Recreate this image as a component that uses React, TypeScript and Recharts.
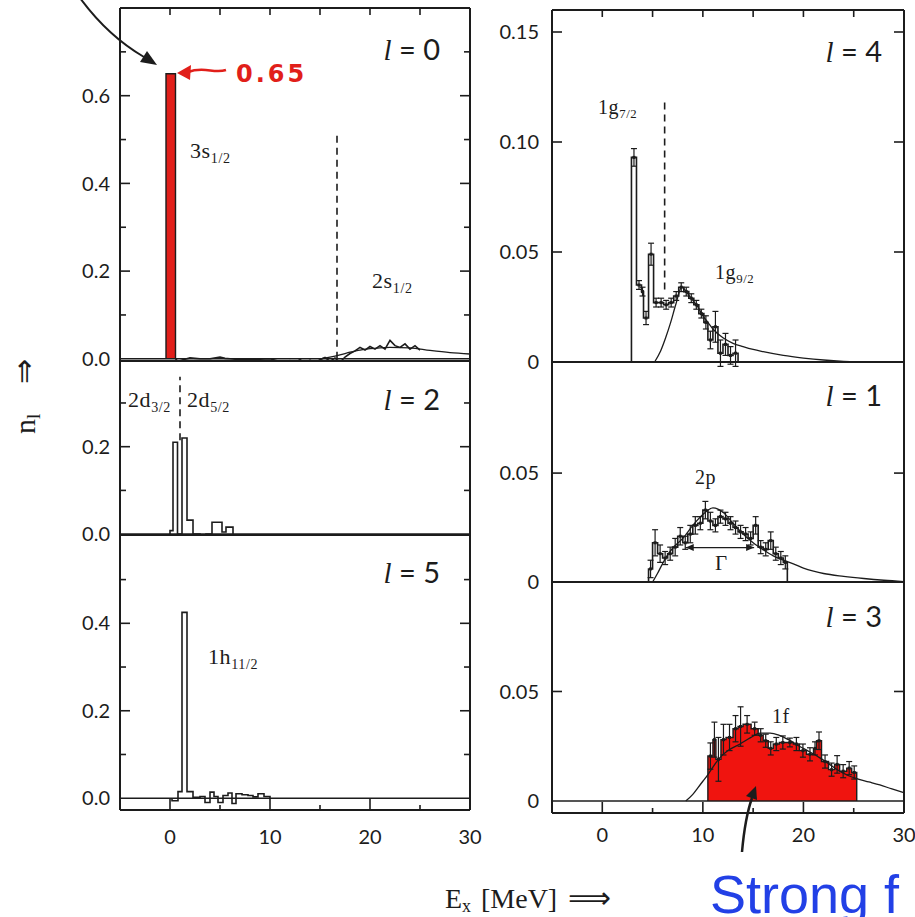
import React from 'react';
import {
  ComposedChart,
  Line,
  Area,
  Scatter,
  XAxis,
  YAxis,
  ReferenceLine,
  ErrorBar,
} from 'recharts';

const INK = '#1c1c1c';
const RED = '#e11f1a';
const FILL_1F = '#f0140f';
const BLUE = '#2240e6';

// shared excitation-energy axis (MeV)
const energyDomain: [number, number] = [-5, 30];
const energyLabels = [0, 10, 20, 30];
const energyBottomTicks = [0, 5, 10, 15, 20, 25];
const energyLongTicks = [0, 10, 20];
const energyTopTicks = [0, 5, 10, 15, 20, 25];

// ---- l = 0
const l0PeakEdges = [-0.4, 0.55];
const l0PeakN = [0.65];
const l0Trace: [number, number][] = [
  [0.55, 0], [0.8, -0.006], [1.3, -0.002], [2, 0.002], [3, 0], [4, 0], [5, 0.004], [5.5, 0.001],
  [6, 0], [7, -0.002], [8, -0.002], [9, -0.001], [10, 0], [11, -0.006], [11.5, -0.012], [12, -0.004],
  [12.5, -0.008], [13, -0.002], [13.5, -0.009], [14, -0.003], [14.5, -0.009], [15, -0.002], [15.5, 0.003],
  [16, -0.006], [16.5, 0.002], [17, -0.008], [17.5, 0.004], [18, 0.012], [18.5, 0.018], [19, 0.026],
  [19.5, 0.02], [20, 0.028], [20.5, 0.022], [21, 0.03], [21.5, 0.022], [22, 0.042], [22.5, 0.03],
  [23, 0.026], [23.5, 0.034], [24, 0.022], [24.5, 0.03], [25, 0.02],
];
const l0Fit: [number, number][] = [
  [15, 0], [16, 0.004], [17, 0.009], [18, 0.015], [19, 0.02], [20, 0.023], [21, 0.025], [22, 0.026],
  [24, 0.025], [26, 0.019], [28, 0.014], [30, 0.011],
];
const l0Split = 16.7;
const l0SplitTop = 0.52;

// ---- l = 2
const l2Edges = [0.0, 0.3, 0.75, 1.2, 1.7, 2.3, 3.0, 3.6, 4.2, 5.2, 5.6, 6.3];
const l2N = [0.008, 0.21, 0.0, 0.22, 0.032, 0.0, -0.004, 0.0, 0.027, 0.005, 0.016];
const l2Split = 1.0;
const l2SplitRange = [0.215, 0.36];

// ---- l = 5
const l5Edges = [0.2, 0.8, 1.2, 1.7, 2.3, 3.0, 3.5, 4.0, 4.4, 4.8, 5.3, 5.8, 6.2, 6.6, 7.2, 7.8, 8.3, 8.8, 9.4, 10.0];
const l5N = [-0.006, 0.015, 0.425, 0.015, 0.002, 0.004, -0.01, 0.014, 0.004, -0.01, 0.006, 0.012, -0.012, 0.01, 0.008, 0.006, 0.003, 0.01, 0.004];

// ---- l = 4
const l4Edges = [2.9, 3.4, 3.9, 4.1, 4.6, 5.1, 5.6, 6.1, 6.6, 7.1, 7.6, 8.1, 8.6, 9.1, 9.6, 10.1, 10.5, 11.0, 11.5, 12.0, 12.5, 13.0, 13.5];
const l4N = [0.093, 0.035, 0.032, 0.02, 0.049, 0.027, 0.027, 0.026, 0.027, 0.03, 0.034, 0.032, 0.029, 0.026, 0.022, 0.018, 0.01, 0.016, 0.004, 0.008, 0.003, 0.004];
const l4Err = [0.004, 0.002, 0.002, 0.003, 0.005, 0.002, 0.002, 0.002, 0.002, 0.002, 0.002, 0.002, 0.002, 0.002, 0.002, 0.003, 0.004, 0.007, 0.006, 0.005, 0.004, 0.006];
const l4Fit: [number, number][] = [
  [5.2, 0], [5.8, 0.005], [6.3, 0.011], [6.8, 0.018], [7.3, 0.026], [7.9, 0.034], [8.5, 0.031], [9, 0.028],
  [9.5, 0.025], [10, 0.021], [10.5, 0.018], [11, 0.015], [12, 0.011], [13, 0.0085], [14, 0.007], [15, 0.0057],
  [16, 0.0047], [18, 0.003], [20, 0.0018], [22, 0.0009], [24, 0.0003], [26, 0], [30, 0],
];
const l4Split = 6.2;
const l4SplitRange = [0.033, 0.12];

// ---- l = 1
const l1Edges = [4.6, 5.0, 5.5, 6.0, 6.5, 7.0, 7.5, 8.0, 8.5, 9.0, 9.5, 10.0, 10.5, 11.0, 11.5, 12.0, 12.5, 13.0, 13.5, 14.0, 14.5, 15.0, 15.5, 16.0, 16.5, 17.0, 17.5, 18.0, 18.4];
const l1N = [0.006, 0.018, 0.013, 0.011, 0.013, 0.016, 0.021, 0.018, 0.022, 0.026, 0.027, 0.033, 0.028, 0.026, 0.03, 0.029, 0.027, 0.025, 0.023, 0.022, 0.02, 0.026, 0.016, 0.015, 0.019, 0.013, 0.011, 0.009];
const l1Err = [0.004, 0.006, 0.004, 0.003, 0.003, 0.004, 0.004, 0.003, 0.004, 0.004, 0.003, 0.004, 0.004, 0.003, 0.003, 0.003, 0.003, 0.003, 0.003, 0.003, 0.003, 0.004, 0.003, 0.003, 0.004, 0.003, 0.003, 0.003];
const l1Fit: [number, number][] = [
  [5.0, 0], [5.5, 0.004], [6, 0.0085], [6.5, 0.0125], [7, 0.0155], [8, 0.02], [9, 0.026], [10, 0.031],
  [11, 0.034], [11.5, 0.0335], [12, 0.032], [13, 0.027], [14, 0.022], [15, 0.018], [16, 0.0148], [17, 0.012],
  [18, 0.01], [19, 0.0083], [20, 0.0064], [21, 0.005], [22, 0.0039], [24, 0.0026], [26, 0.0016], [28, 0.0008], [30, 0.0002],
];
const l1Gamma = [8.3, 15.1];
const l1GammaN = 0.0158;

// ---- l = 3
const l3Edges = [10.5, 11.0, 11.3, 11.8, 12.3, 13.0, 13.5, 14.0, 14.8, 15.5, 16.0, 16.5, 17.0, 17.6, 18.3, 19.0, 19.6, 20.3, 21.0, 21.3, 21.8, 22.5, 23.1, 23.6, 24.3, 24.8, 25.3];
const l3N = [0.0205, 0.028, 0.019, 0.028, 0.029, 0.033, 0.034, 0.035, 0.033, 0.03, 0.0275, 0.024, 0.026, 0.0267, 0.0267, 0.026, 0.023, 0.0213, 0.024, 0.0275, 0.018, 0.0143, 0.0167, 0.0136, 0.015, 0.013];
const l3Err = [0.006, 0.008, 0.01, 0.007, 0.006, 0.006, 0.009, 0.004, 0.003, 0.003, 0.003, 0.003, 0.003, 0.003, 0.002, 0.003, 0.003, 0.003, 0.003, 0.004, 0.003, 0.003, 0.004, 0.003, 0.003, 0.003];
const l3Fit: [number, number][] = [
  [8.3, 0], [9, 0.003], [9.5, 0.006], [10, 0.009], [10.5, 0.012], [11, 0.0155], [11.7, 0.0198], [12.5, 0.023],
  [13.7, 0.026], [14.7, 0.0288], [15.7, 0.031], [16.7, 0.031], [17.6, 0.03], [18.6, 0.0278], [19.6, 0.025],
  [20.6, 0.0225], [21.6, 0.0198], [22.6, 0.0167], [23.6, 0.0136], [24.5, 0.0115], [25.3, 0.0102], [26.5, 0.0087],
  [27.6, 0.0073], [28.8, 0.0055], [30, 0.0038],
];

type Pt = { x: number; y: number; e?: number };
const toPts = (a: [number, number][]): Pt[] => a.map(([x, y]) => ({ x, y }));
const stepPts = (edges: number[], n: number[]): Pt[] => [
  { x: edges[0], y: 0 },
  ...edges.map((x, i) => ({ x, y: i < n.length ? n[i] : 0 })),
];
const binPts = (edges: number[], n: number[], err: number[]): Pt[] =>
  n.map((y, i) => ({ x: (edges[i] + edges[i + 1]) / 2, y, e: err[i] }));

const serif = "'Liberation Serif', 'DejaVu Serif', serif";
const sans = "Lato, 'DejaVu Sans', sans-serif";

// ---- series builders (return elements so they stay direct chart children)
const histLine = (key: string, data: Pt[]) => (
  <Line key={key} xAxisId="x" yAxisId="y" data={data} dataKey="y" type="stepAfter"
    stroke={INK} strokeWidth={1.6} dot={false} activeDot={false} isAnimationActive={false} />
);
const curve = (key: string, data: Pt[], type: 'linear' | 'monotone', w: number) => (
  <Line key={key} xAxisId="x" yAxisId="y" data={data} dataKey="y" type={type}
    stroke={INK} strokeWidth={w} dot={false} activeDot={false} isAnimationActive={false} />
);
const histArea = (key: string, data: Pt[], fill: string) => (
  <Area key={key} xAxisId="x" yAxisId="y" data={data} dataKey="y" type="stepAfter" baseValue={0}
    stroke={INK} strokeWidth={1.4} fill={fill} fillOpacity={1} dot={false} activeDot={false} isAnimationActive={false} />
);
const square = (p: any) => <rect x={p.cx - 1.5} y={p.cy - 1.5} width={3} height={3} fill={INK} />;
const errPoints = (key: string, data: Pt[]) => (
  <Scatter key={key} xAxisId="x" yAxisId="y" data={data} dataKey="y" shape={square} isAnimationActive={false}>
    <ErrorBar dataKey="e" direction="y" width={3} stroke={INK} strokeWidth={1.2} />
  </Scatter>
);
const zeroLine = (key: string) => (
  <ReferenceLine key={key} xAxisId="x" yAxisId="y" y={0} stroke={INK} strokeWidth={1.6} />
);
const dashed = (key: string, e: number, lo: number, hi: number) => (
  <ReferenceLine key={key} xAxisId="x" yAxisId="y" segment={[{ x: e, y: lo }, { x: e, y: hi }]}
    stroke={INK} strokeWidth={1.6} strokeDasharray="7 5" />
);
const arrowHead = (dir: 1 | -1) => (p: any) => (
  <path d={`M${p.cx} ${p.cy} l${-dir * 8} -3.5 l0 7 z`} fill={INK} />
);

// inward tick marks drawn by mirrored axes
const mark = (side: 'left' | 'right' | 'top' | 'bottom', longVals: number[], longLen: number, shortLen: number) =>
  (p: any) => {
    const v = p.payload?.value;
    const len = longVals.some((m) => Math.abs(m - v) < 1e-9) ? longLen : shortLen;
    const { x, y } = p;
    const x2 = side === 'left' ? x + len : side === 'right' ? x - len : x;
    const y2 = side === 'top' ? y + len : side === 'bottom' ? y - len : y;
    return <line x1={x} y1={y} x2={x2} y2={y2} stroke={INK} strokeWidth={1.6} />;
  };

const LABEL_W = 60;
const PAD_T = 12;
const PAD_R = 12;
const PAD_B = 12;
const XLAB_H = 40;
const tickFont = { fontSize: 20, fontFamily: sans, fill: INK };
const frame = { stroke: INK, strokeWidth: 2 };
const f1 = (v: number) => v.toFixed(1);
const f2 = (v: number) => (v === 0 ? '0' : v.toFixed(2));

interface PanelProps {
  left: number;
  top: number;
  width: number;
  height: number;
  yDomain: [number, number];
  yLabels: number[];
  yTicks: number[];
  yLong: number[];
  fmt: (v: number) => string;
  labelGap: number;
  topTicks?: number[];
  bottomTicks?: number[];
  xLabelGap?: number;
  children: React.ReactNode;
}

function Panel(p: PanelProps) {
  const hasXLabels = p.xLabelGap !== undefined;
  const chartH = PAD_T + p.height + (hasXLabels ? XLAB_H : 0) + PAD_B;
  return (
    <div style={{ position: 'absolute', left: p.left - LABEL_W, top: p.top - PAD_T }}>
      <ComposedChart width={LABEL_W + p.width + PAD_R} height={chartH}
        margin={{ top: PAD_T, right: PAD_R, bottom: PAD_B, left: 0 }}>
        <XAxis xAxisId="x" type="number" dataKey="x" domain={energyDomain} allowDataOverflow
          orientation="bottom" mirror ticks={p.bottomTicks ?? [0]} interval={0} tickSize={0} tickMargin={0}
          tickLine={false} tick={p.bottomTicks ? mark('bottom', energyLongTicks, 11, 5) : false} axisLine={frame} />
        <XAxis xAxisId="xt" type="number" dataKey="x" domain={energyDomain} allowDataOverflow
          orientation="top" mirror ticks={p.topTicks ?? [0]} interval={0} tickSize={0} tickMargin={0}
          tickLine={false} tick={p.topTicks ? mark('top', p.topTicks, 7, 7) : false} axisLine={frame} />
        {hasXLabels && (
          <XAxis xAxisId="xl" type="number" dataKey="x" domain={energyDomain} allowDataOverflow
            orientation="bottom" height={XLAB_H} ticks={energyLabels} interval={0} tickSize={0}
            tickMargin={p.xLabelGap} tickLine={false} axisLine={false} tick={tickFont} />
        )}
        <YAxis yAxisId="y" type="number" domain={p.yDomain} allowDataOverflow orientation="left"
          width={LABEL_W} ticks={p.yLabels} interval={0} tickSize={0} tickMargin={p.labelGap}
          tickLine={false} axisLine={false} tick={tickFont} tickFormatter={p.fmt} />
        <YAxis yAxisId="yl" type="number" domain={p.yDomain} allowDataOverflow orientation="left" mirror
          ticks={p.yTicks} interval={0} tickSize={0} tickMargin={0} tickLine={false}
          tick={mark('left', p.yLong, 10, 6)} axisLine={frame} />
        <YAxis yAxisId="yr" type="number" domain={p.yDomain} allowDataOverflow orientation="right" mirror
          ticks={p.yTicks} interval={0} tickSize={0} tickMargin={0} tickLine={false}
          tick={mark('right', p.yLong, 10, 6)} axisLine={frame} />
        {p.children}
      </ComposedChart>
    </div>
  );
}

function Ell({ x, y, n }: { x: number; y: number; n: number }) {
  return (
    <text x={x} y={y} textAnchor="end" fontFamily={sans} fontSize={29} fill={INK}>
      <tspan fontFamily={serif} fontStyle="italic">l</tspan>
      <tspan> = {n}</tspan>
    </text>
  );
}

function Level({ x, y, main, sub, size = 22 }: { x: number; y: number; main: string; sub?: string; size?: number }) {
  return (
    <text x={x} y={y} fontFamily={serif} fontSize={size} fill={INK} letterSpacing={0.6}>
      {main}
      {sub ? <tspan fontSize={size * 0.64} dy={size * 0.22}>{sub}</tspan> : null}
    </text>
  );
}

export default function App() {
  return (
    <div style={{ position: 'absolute', left: 0, top: 0, width: 915, height: 917, background: '#fff', overflow: 'hidden' }}>
      {/* left column */}
      <Panel left={120} top={8} width={350} height={353} yDomain={[-0.005, 0.8]}
        yLabels={[0, 0.2, 0.4, 0.6]} yTicks={[0.1, 0.2, 0.3, 0.4, 0.5, 0.6, 0.7]} yLong={[0.2, 0.4, 0.6]}
        fmt={f1} labelGap={10} topTicks={energyTopTicks}>
        {[
          histArea('l0peak', stepPts(l0PeakEdges, l0PeakN), RED),
          zeroLine('l0zero'),
          curve('l0trace', toPts(l0Trace), 'linear', 1.6),
          curve('l0fit', toPts(l0Fit), 'monotone', 1.3),
          dashed('l0split', l0Split, 0, l0SplitTop),
        ]}
      </Panel>
      <Panel left={120} top={361} width={350} height={174} yDomain={[-0.002, 0.396]}
        yLabels={[0, 0.2]} yTicks={[0.1, 0.2, 0.3]} yLong={[0.2]} fmt={f1} labelGap={10}>
        {[
          zeroLine('l2zero'),
          histLine('l2hist', stepPts(l2Edges, l2N)),
          dashed('l2split', l2Split, l2SplitRange[0], l2SplitRange[1]),
        ]}
      </Panel>
      <Panel left={120} top={535} width={350} height={275} yDomain={[-0.027, 0.602]}
        yLabels={[0, 0.2, 0.4]} yTicks={[0.1, 0.2, 0.3, 0.4, 0.5]} yLong={[0.2, 0.4]} fmt={f1} labelGap={10}
        bottomTicks={energyBottomTicks} xLabelGap={20}>
        {[zeroLine('l5zero'), histLine('l5hist', stepPts(l5Edges, l5N))]}
      </Panel>

      {/* right column */}
      <Panel left={552} top={10} width={352} height={352} yDomain={[0, 0.16]}
        yLabels={[0, 0.05, 0.1, 0.15]} yTicks={[0.05, 0.1, 0.15]} yLong={[0.05, 0.1, 0.15]}
        fmt={f2} labelGap={13} topTicks={energyTopTicks}>
        {[
          histLine('l4hist', stepPts(l4Edges, l4N)),
          curve('l4fit', toPts(l4Fit), 'monotone', 1.3),
          errPoints('l4err', binPts(l4Edges, l4N, l4Err)),
          dashed('l4split', l4Split, l4SplitRange[0], l4SplitRange[1]),
        ]}
      </Panel>
      <Panel left={552} top={362} width={352} height={220} yDomain={[0, 0.101]}
        yLabels={[0, 0.05]} yTicks={[0.05]} yLong={[0.05]} fmt={f2} labelGap={13}>
        {[
          histLine('l1hist', stepPts(l1Edges, l1N)),
          curve('l1fit', toPts(l1Fit), 'monotone', 1.3),
          errPoints('l1err', binPts(l1Edges, l1N, l1Err)),
          <ReferenceLine key="l1gamma" xAxisId="x" yAxisId="y"
            segment={[{ x: l1Gamma[0], y: l1GammaN }, { x: l1Gamma[1], y: l1GammaN }]} stroke={INK} strokeWidth={1.4} />,
          <Scatter key="l1gl" xAxisId="x" yAxisId="y" data={[{ x: l1Gamma[0], y: l1GammaN }]} dataKey="y"
            shape={arrowHead(-1)} isAnimationActive={false} />,
          <Scatter key="l1gr" xAxisId="x" yAxisId="y" data={[{ x: l1Gamma[1], y: l1GammaN }]} dataKey="y"
            shape={arrowHead(1)} isAnimationActive={false} />,
        ]}
      </Panel>
      <Panel left={552} top={582} width={352} height={231} yDomain={[-0.0055, 0.1]}
        yLabels={[0, 0.05]} yTicks={[0.05]} yLong={[0.05]} fmt={f2} labelGap={13}
        bottomTicks={energyBottomTicks} xLabelGap={15}>
        {[
          histArea('l3fill', stepPts(l3Edges, l3N), FILL_1F),
          zeroLine('l3zero'),
          curve('l3fit', toPts(l3Fit), 'monotone', 1.3),
          errPoints('l3err', binPts(l3Edges, l3N, l3Err)),
        ]}
      </Panel>

      {/* labels and annotations */}
      <svg width={915} height={917} style={{ position: 'absolute', left: 0, top: 0, pointerEvents: 'none' }}>
        <Ell x={440} y={60} n={0} />
        <Ell x={440} y={410} n={2} />
        <Ell x={440} y={583} n={5} />
        <Ell x={882} y={62} n={4} />
        <Ell x={882} y={406} n={1} />
        <Ell x={882} y={627} n={3} />

        <Level x={190} y={158} main="3s" sub="1/2" />
        <Level x={372} y={288} main="2s" sub="1/2" />
        <Level x={128} y={407} main="2d" sub="3/2" />
        <Level x={187} y={407} main="2d" sub="5/2" />
        <Level x={208} y={664} main="1h" sub="11/2" />
        <Level x={598} y={114} main="1g" sub="7/2" size={20} />
        <Level x={715} y={279} main="1g" sub="9/2" size={20} />
        <Level x={695} y={484} main="2p" size={20} />
        <Level x={715} y={570} main="Γ" size={21} />
        <Level x={772} y={723} main="1f" size={20} />

        <text transform="rotate(-90)" x={-434} y={35} fontFamily={serif} fontSize={30} fill={INK}>
          n<tspan fontSize={19} dy={5}>l</tspan>
        </text>
        <text transform="rotate(-90)" x={-384} y={34} fontFamily="'DejaVu Sans', sans-serif" fontSize={30} fill={INK}>⇒</text>

        <text x={445} y={908} fontFamily={serif} fontSize={28} fill={INK}>
          E<tspan fontSize={18} dy={4}>x</tspan>
        </text>
        <text x={481} y={908} fontFamily={serif} fontSize={28} fill={INK}>[MeV]</text>
        <text x={568} y={908} fontFamily="'DejaVu Sans', sans-serif" fontSize={30} fill={INK}>⟹</text>

        <text x={710} y={913} fontFamily="'Liberation Sans', Arial, sans-serif" fontSize={54} fill={BLUE}>Strong f</text>

        <text x={236} y={82} fontFamily="'DejaVu Sans', sans-serif" fontWeight="bold" fontSize={24}
          letterSpacing={3} fill={RED}>0.65</text>
        <path d="M 226 70 C 214 74, 204 66, 188 72" stroke={RED} strokeWidth={2.5} fill="none" />
        <polygon points="177,73 191,65 190,80" fill={RED} />

        <path d="M 80 -2 Q 108 36 144 57" stroke={INK} strokeWidth={2} fill="none" />
        <polygon points="157,65 140,62 147,51" fill={INK} />

        <path d="M 742 852 Q 745 818 752 798" stroke={INK} strokeWidth={2.5} fill="none" />
        <polygon points="756,786 746,796 757,800" fill={INK} />
      </svg>
    </div>
  );
}
